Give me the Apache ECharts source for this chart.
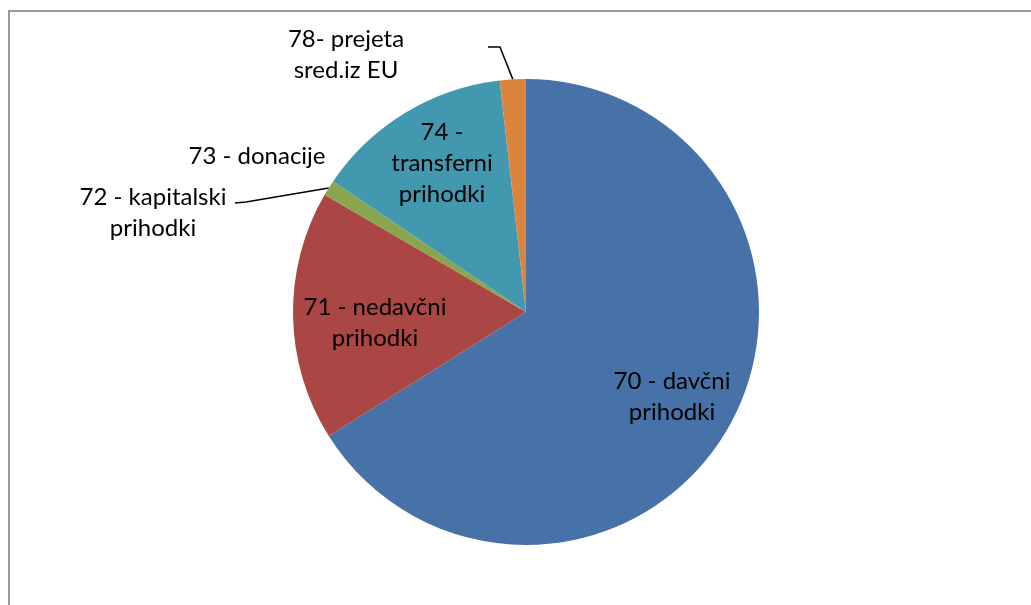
<!DOCTYPE html>
<html>
<head>
<meta charset="utf-8">
<script src="https://cdn.jsdelivr.net/npm/echarts@6/dist/echarts.min.js"></script>
<style>
  html, body { margin: 0; padding: 0; background: #fff; }
  #main { width: 1031px; height: 605px; }
</style>
</head>
<body>
<div id="main"></div>
<script>
// podatki
const categories = [
  '70 - davčni\nprihodki',
  '71 - nedavčni\nprihodki',
  '72 - kapitalski\nprihodki',
  '73 - donacije',
  '74 -\ntransferni\nprihodki',
  '78- prejeta\nsred.iz EU',
];
const shares = [66.0, 17.3, 1.1, 0, 13.7, 1.8];
const sliceColors = ['#4672A7', '#AA4643', '#89A54E', '#80699B', '#4198AF', '#DB843D'];

// postavitev
const pieCenter = [526, 312];
const pieRadius = 233;
// središča napisov
const labelPos = [[672, 397], [375, 323], [153, 213], [257, 156], [442, 163], [346, 55]];
// pregib in konec povezovalne črte (samo za zunanje napise)
const leaderKnee = { 2: [[246, 202], [235, 203]], 5: [[500, 47], [488, 47]] };

// srednji kot rezine (v smeri urinega kazalca od vrha)
const total = shares.reduce((a, b) => a + b, 0);
const midAngle = [];
let acc = 0;
shares.forEach((v) => {
  midAngle.push(((acc + v / 2) / total) * Math.PI * 2);
  acc += v;
});

const myChart = echarts.init(document.getElementById('main'), null, { renderer: 'canvas' });

myChart.setOption({
  animation: false,
  color: sliceColors,
  graphic: [
    {
      type: 'rect',
      silent: true,
      shape: { x: 9, y: 11, width: 1100, height: 700 },
      style: { fill: 'none', stroke: '#999', lineWidth: 2 },
    },
  ],
  series: [
    {
      type: 'pie',
      center: pieCenter,
      radius: [0, pieRadius],
      startAngle: 90,
      clockwise: true,
      avoidLabelOverlap: false,
      stillShowZeroSum: true,
      data: categories.map((name, i) => ({
        name,
        value: shares[i],
        labelLine: { show: !!leaderKnee[i] },
      })),
      itemStyle: { borderWidth: 0 },
      label: {
        show: true,
        position: 'outside',
        formatter: '{b}',
        color: '#000',
        fontFamily: 'Lato',
        fontSize: 24,
        lineHeight: 31,
        align: 'center',
      },
      labelLine: {
        show: true,
        length: 10,
        length2: 10,
        lineStyle: { color: '#000', width: 1.5 },
      },
      emphasis: { disabled: true },
      labelLayout(params) {
        const i = params.dataIndex;
        const res = {
          x: labelPos[i][0],
          y: labelPos[i][1],
          align: 'center',
          verticalAlign: 'middle',
        };
        if (leaderKnee[i]) {
          const a = midAngle[i];
          const edge = [pieCenter[0] + pieRadius * Math.sin(a), pieCenter[1] - pieRadius * Math.cos(a)];
          res.labelLinePoints = [edge, leaderKnee[i][0], leaderKnee[i][1]];
        }
        return res;
      },
    },
  ],
});
</script>
</body>
</html>
